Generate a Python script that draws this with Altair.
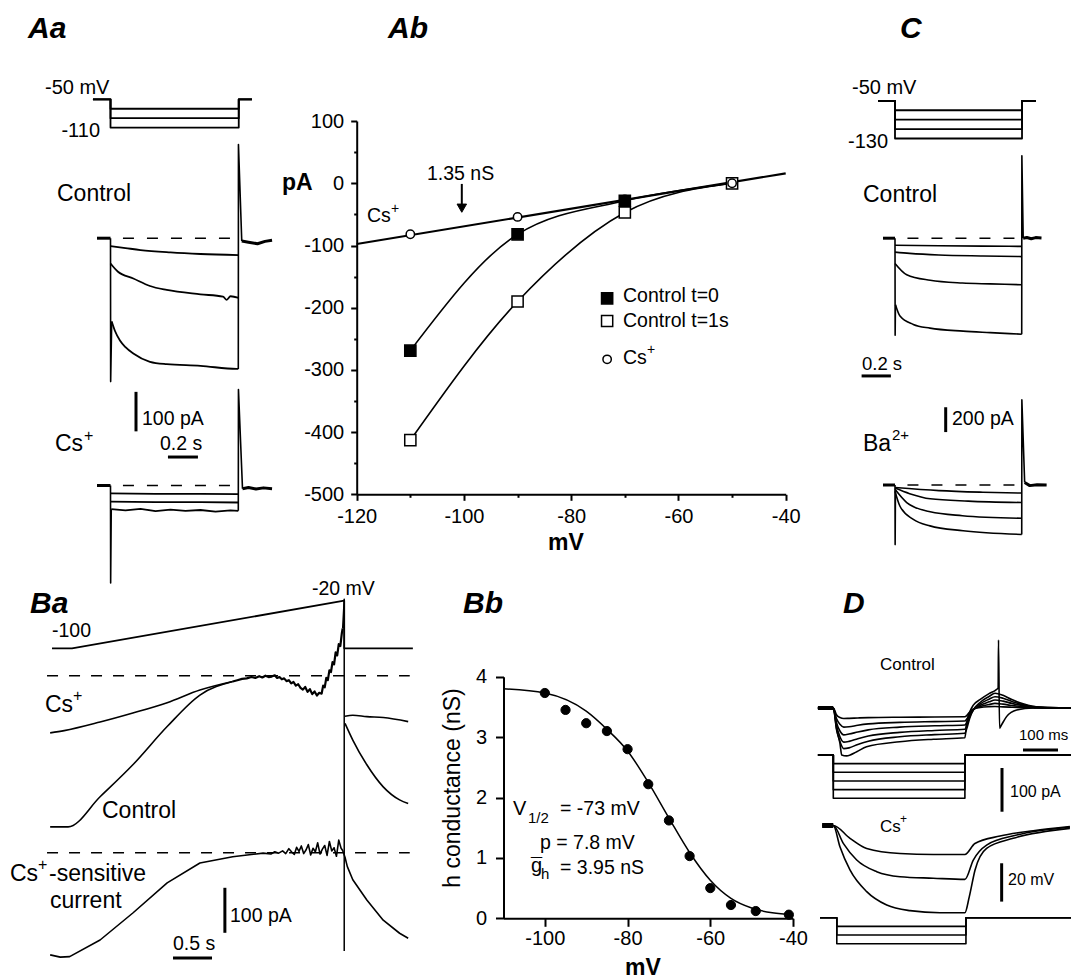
import altair as alt
import pandas as pd

FONT = "Liberation Sans"
W, H = 1071, 980

# ================= DATA =================
# ---- Aa : command (mV), currents (pA), time (s)
AA_HOLD_MV = -50
AA_STEP_MV = [-70, -90, -110]
AA_CMD_T = [-0.117, 0.0, 0.0, 0.855, 0.855, 0.943]

AA_CTRL_PRE = ([-0.09, 0.0], [0, 0])
AA_CTRL_1 = ([0.0, 0.1, 0.2, 0.4, 0.6, 0.855], [-20, -25, -30, -36, -40, -43])
AA_CTRL_2 = ([0.0, 0.05, 0.152, 0.263, 0.375, 0.6, 0.75, 0.775, 0.8, 0.855],
             [-64, -85, -102, -121, -131, -142, -148, -156, -147, -151])
AA_CTRL_3 = ([0.008, 0.03, 0.063, 0.1, 0.152, 0.263, 0.375, 0.6, 0.84, 0.852],
             [-211, -235, -259, -276, -292, -313, -319, -323, -331, -331])
AA_CTRL_ON = ([0.0, 0.001, 0.008], [0, -363, -211])
AA_CTRL_OFF = ([0.852, 0.853, 0.875], [-331, 237, -7])
AA_CTRL_POST = ([0.875, 0.92, 0.98, 1.03, 1.077], [-7, -10, -14, -8, -5])

AA_CS_PRE = ([-0.09, 0.0], [0, 0])
AA_CS_1 = ([0.0, 0.3, 0.6, 0.852], [-20, -21, -21, -22])
AA_CS_2 = ([0.0, 0.3, 0.6, 0.852], [-41, -42, -42, -43])
AA_CS_3 = ([0.005, 0.1, 0.2, 0.3, 0.4, 0.5, 0.6, 0.7, 0.8, 0.852],
           [-60, -63, -59, -65, -61, -64, -62, -66, -63, -64])
AA_CS_ON = ([0.0, 0.001, 0.005], [0, -247, -60])
AA_CS_OFF = ([0.852, 0.853, 0.88], [-64, 243, -8])
AA_CS_POST = ([0.88, 0.92, 0.97, 1.02, 1.077], [-8, -5, -9, -6, -8])

# ---- Ab : I-V relation
AB_MV = [-110, -90, -70, -50]
AB_CTRL_T0 = [-269, -82, -28, 0]
AB_CTRL_T1 = [-413, -190, -47, 0]
AB_CS = [-82, -54, -26, 0]
AB_CS_FIT_MV = [-120, -40]
AB_CS_FIT_PA = [-97.6, 16]

# ---- C
C_HOLD_MV = -50
C_STEP_MV = [-70, -90, -110, -130]
C_CMD_T = [-0.116, 0.0, 0.0, 0.867, 0.867, 0.962]
C_CTRL_PRE = ([-0.082, 0.0], [0, 0])
C_CTRL_1 = ([0.0, 0.3, 0.6, 0.865], [-57, -61, -64, -66])
C_CTRL_2 = ([0.0, 0.1, 0.3, 0.6, 0.865], [-112, -122, -135, -143, -148])
C_CTRL_3 = ([0.0, 0.08, 0.24, 0.46, 0.65, 0.865], [-203, -294, -339, -361, -368, -375])
C_CTRL_4 = ([0.003, 0.034, 0.125, 0.239, 0.465, 0.65, 0.865],
            [-536, -627, -694, -724, -748, -760, -773])
C_CTRL_ON = ([0.0, 0.001, 0.003], [0, -782, -536])
C_CTRL_OFF = ([0.865, 0.866, 0.875], [-773, 664, 0])
C_CTRL_POST = ([0.875, 0.9, 0.93, 0.96, 1.0], [0, 6, -4, 5, 2])

C_BA_PRE = ([-0.082, 0.0], [0, 0])
C_BA_1 = ([0.0, 0.3, 0.6, 0.865], [-20, -45, -58, -65])
C_BA_2 = ([0.0, 0.1, 0.24, 0.5, 0.865], [-25, -70, -111, -130, -141])
C_BA_3 = ([0.0, 0.08, 0.24, 0.46, 0.865], [-35, -141, -216, -247, -268])
C_BA_4 = ([0.0, 0.034, 0.125, 0.239, 0.465, 0.865], [-50, -171, -277, -329, -368, -398])
C_BA_ON = ([0.0, 0.001, 0.003], [0, -480, -50])
C_BA_OFF = ([0.865, 0.866, 0.885], [-398, 685, 20])
C_BA_POST = ([0.885, 0.92, 0.97, 1.035], [20, -5, 2, 0])

# ---- Ba : ramp
BA_CMD = ([-0.256, 0.0, 3.49, 3.49, 4.37], [-100, -100, -20, -100, -100])
BA_CS_PRE = ([-0.28, -0.1, 0.36, 0.78, 1.22, 1.64, 2.06], [-127, -122, -103, -83, -60, -32, -13])
BA_CTRL_PRE = ([-0.28, -0.05, 0.36, 0.78, 1.22, 1.64, 2.06], [-336, -336, -269, -198, -113, -43, -13])
BA_SHARED = ([2.06, 2.12, 2.18, 2.24, 2.30, 2.35, 2.40, 2.44, 2.48, 2.52, 2.56, 2.60, 2.63, 2.66, 2.69,
              2.72, 2.75, 2.78, 2.81, 2.84, 2.87, 2.90, 2.93, 2.96, 2.99, 3.02, 3.05, 3.08, 3.11, 3.14,
              3.17, 3.20, 3.22, 3.24, 3.26, 3.28, 3.30, 3.32, 3.34, 3.36, 3.38, 3.40, 3.42, 3.44, 3.46, 3.47],
             [-13, -10, -7, -6, -3, -5, -1, -4, 0, -3, -2, 1, -5, -3, -8,
              -6, -12, -10, -17, -14, -22, -19, -27, -31, -25, -36, -30, -41, -35, -44,
              -38, -40, -22, -26, -5, -10, 12, 8, 30, 25, 52, 45, 70, 66, 95, 105])
BA_TRANSIENT = ([3.47, 3.49, 3.49], [105, 170, -612])
BA_CTRL_POST = ([3.5, 3.6, 3.78, 3.99, 4.2, 4.31], [-106, -143, -198, -247, -276, -284])
BA_CS_POST = ([3.5, 3.6, 3.78, 3.99, 4.31], [-90, -88, -91, -93, -102])
BA_SENS = ([-0.28, -0.15, -0.03, 0.36, 0.78, 1.22, 1.64, 2.06,
            2.3, 2.45, 2.55, 2.6, 2.65, 2.7, 2.74, 2.78, 2.82, 2.85, 2.88, 2.91, 2.94, 2.97, 3.0,
            3.03, 3.06, 3.09, 3.12, 3.15, 3.18, 3.21, 3.24, 3.27, 3.3, 3.33, 3.36, 3.39, 3.42, 3.45, 3.47,
            3.5, 3.53, 3.6, 3.78, 3.99, 4.2, 4.31],
           [-227, -232, -231, -194, -134, -67, -23, -9,
            -4, -1, -3, 2, -1, 4, -2, 9, 1, -4, 12, 3, 15, -2, 6,
            18, -5, 10, 2, 22, -3, 8, 16, -6, 25, 4, 11, -8, 28, 10, 5,
            -10, -31, -60, -105, -150, -179, -190])

# ---- Bb : h conductance
BB_MV = [-100, -95, -90, -85, -80, -75, -70, -65, -60, -55, -49, -41]
BB_NS = [3.73, 3.45, 3.23, 3.10, 2.80, 2.22, 1.62, 1.03, 0.50, 0.22, 0.12, 0.06]
BB_FIT_MV = [-110, -100, -90, -85, -80, -75, -70, -65, -60, -55, -50, -45, -40]
BB_FIT_NS = [3.80, 3.73, 3.43, 3.13, 2.77, 2.25, 1.66, 1.09, 0.63, 0.33, 0.17, 0.09, 0.06]

# ---- D : current clamp (time in ms, mV relative to rest, pA)
D_T = [-44, 0, 9, 19, 30, 45, 70, 100, 190, 290, 376, 381, 390, 400, 420, 445, 462, 485, 510, 540, 570, 620, 681]
D_CTRL_V = [
    [0, 0, -3.5, -5.0, -5.5, -5.4, -5.2, -5.0, -4.8, -4.7, -4.6, -4.0, -2.0, -0.5, 0.3, 0.7, 0.8, 0.6, 0.4, 0.2, 0.1, 0, 0],
    [0, 0, -5.5, -8.5, -10.0, -9.8, -9.0, -8.3, -7.5, -7.1, -6.8, -5.8, -3.0, -0.8, 0.8, 1.8, 2.4, 2.0, 1.3, 0.7, 0.3, 0.1, 0],
    [0, 0, -7.5, -12, -14, -13.6, -12.5, -11.4, -10.0, -9.3, -8.9, -7.5, -3.8, -1.0, 1.4, 3.2, 4.2, 3.6, 2.4, 1.3, 0.5, 0.1, 0],
    [0, 0, -9, -15, -17.8, -17.4, -16, -14.6, -12.7, -11.7, -11.1, -9.3, -4.5, -1.0, 2.2, 4.6, 5.9, 5.1, 3.4, 1.8, 0.7, 0.2, 0],
    [0, 0, -10.5, -17.5, -21.2, -20.8, -19.0, -17.3, -15.0, -13.9, -13.2, -11.0, -5.2, -1.0, 3.0, 6.0, 7.7, 6.6, 4.4, 2.3, 0.9, 0.2, 0],
]
D_SPIKE = ([-44, 0, 9.5, 19, 24, 38, 67, 95, 190, 286, 376, 381, 390, 400, 420, 445, 465, 471, 472, 475, 480, 495, 524, 571, 620, 681],
           [0, 0, -11.5, -18.4, -24.5, -25, -22.8, -20.2, -17.6, -16.3, -15.5, -8, -2, 1.5, 4.5, 7.5, 9.5, 10.5, 35.5, -10.5, -9, -4.5, -1, 0, 0, 0])
D_CTRL_STEP_PA = [-20, -40, -60, -80, -100]
D_CTRL_CMD_T = [-44, 0, 0, 376, 376, 681]
D_CS_1 = ([-32, 0, 47.7, 95.4, 190.6, 285.7, 376, 404.6, 476.3, 571.4, 676],
          [0, 0, -6.7, -12.0, -14.6, -15.1, -15.1, -9.4, -5.5, -2.7, -0.6])
D_CS_2 = ([-32, 0, 28.6, 66.9, 124, 190.6, 285.7, 376, 400, 438, 524, 676],
          [0, 0, -9.3, -18.0, -24.1, -26.7, -27.5, -28.1, -18.0, -10.2, -5.0, -0.9])
D_CS_3 = ([-32, 0, 19, 47.6, 95.4, 152.6, 219, 305, 376, 388.6, 405, 438, 514, 676],
          [0, 0, -11.1, -23.2, -34.5, -41.5, -44.4, -45.5, -45.5, -37.1, -23.2, -11.9, -6.7, -1.5])
D_CS_STEP_PA = [-20, -40, -60]
D_CS_CMD_T = [-38, 10, 10, 379, 379, 681]


# ================= HELPERS =================
def sc(d, r):
    return alt.Scale(domain=d, range=r, nice=False, zero=False)


def lines(traces, xs, ys, sw=1.6, dash=None, interp="linear", xaxis=None, yaxis=None):
    rows = []
    for k, (ts, vs) in enumerate(traces):
        for i, (t, v) in enumerate(zip(ts, vs)):
            rows.append({"k": k, "i": i, "t": t, "v": v})
    props = dict(color="black", strokeWidth=sw, strokeJoin="round", interpolate=interp)
    if dash is not None:
        props["strokeDash"] = dash
    return alt.Chart(pd.DataFrame(rows)).mark_line(**props).encode(
        x=alt.X("t:Q", scale=xs, axis=xaxis),
        y=alt.Y("v:Q", scale=ys, axis=yaxis),
        detail="k:N", order="i:Q")


def points(xv, yv, xs, ys, shape, fill, size, sw=1.5):
    df = pd.DataFrame({"t": xv, "v": yv})
    return alt.Chart(df).mark_point(shape=shape, filled=True, fill=fill, stroke="black",
                                    strokeWidth=sw, size=size, opacity=1).encode(
        x=alt.X("t:Q", scale=xs, axis=None), y=alt.Y("v:Q", scale=ys, axis=None))


ONE = pd.DataFrame({"o": [0]})


def txt(s, x, y, size=19, weight="normal", style="normal", align="left", angle=None, baseline="alphabetic"):
    kw = dict(text=s, font=FONT, fontSize=size, fontWeight=weight, fontStyle=style,
              align=align, baseline=baseline, color="black")
    if angle is not None:
        kw["angle"] = angle
    return alt.Chart(ONE).mark_text(**kw).encode(x=alt.value(x), y=alt.value(y))


def axis(orient, offset, values, size, labels=True, domain=True, pad=4, fs=20):
    return alt.Axis(orient=orient, offset=offset, values=values, tickSize=size, tickWidth=2,
                    tickColor="black", domain=domain, domainColor="black", domainWidth=2,
                    labels=labels, grid=False, title=None, labelFont=FONT, labelFontSize=fs,
                    labelColor="black", labelPadding=pad, labelFlush=False, labelOverlap=False,
                    labelExpr="'' + datum.value")


def cmd_traces(times, hold, levels):
    return [(times, [hold, hold, lv, lv, hold, hold]) for lv in levels]


L = []

# ================= Aa =================
AX = sc([0, 1], [110.5, 260.5])
AY_CMD = sc([-110, -50], [127.6, 99.3])
AY_CTRL = sc([-400, 0], [396.2, 238.2])
AY_CS = sc([-400, 0], [643.5, 485.5])

L.append(lines(cmd_traces(AA_CMD_T, AA_HOLD_MV, AA_STEP_MV), AX, AY_CMD, sw=1.8))
L.append(lines([AA_CTRL_1, AA_CTRL_2, AA_CTRL_3], AX, AY_CTRL, sw=1.8, interp="monotone"))
L.append(lines([AA_CTRL_ON, AA_CTRL_OFF], AX, AY_CTRL, sw=1.6))
L.append(lines([AA_CTRL_PRE, AA_CTRL_POST], AX, AY_CTRL, sw=3))
L.append(lines([([0.083, 0.863], [0, 0])], AX, AY_CTRL, sw=1.6, dash=[11, 13]))
L.append(lines([AA_CS_1, AA_CS_2, AA_CS_3], AX, AY_CS, sw=1.8))
L.append(lines([AA_CS_ON, AA_CS_OFF], AX, AY_CS, sw=1.6))
L.append(lines([AA_CS_PRE, AA_CS_POST], AX, AY_CS, sw=3))
L.append(lines([([0.083, 0.863], [0, 0])], AX, AY_CS, sw=1.6, dash=[11, 13]))
# scale bars 100 pA / 0.2 s
L.append(lines([([0.17, 0.17], [-389, -489]), ([0.383, 0.583], [-554, -554])], AX, AY_CTRL, sw=3))

L += [txt("Aa", 28, 38, 30, "bold", "italic"),
      txt("-50 mV", 45, 94, 20), txt("-110", 100, 137, 20, align="right"),
      txt("Control", 57, 201, 23), txt("100 pA", 142, 425, 19.5),
      txt("Cs", 55, 451, 23), txt("+", 84, 441, 16), txt("0.2 s", 160, 450, 19.5)]

# ================= Ab =================
ABX = sc([-120, -40], [356.7, 785.7])
ABY = sc([-500, 100], [494.3, 121.1])
L.append(lines([(AB_MV, AB_CTRL_T0), (AB_MV, AB_CTRL_T1)], ABX, ABY, sw=1.6, interp="monotone",
               xaxis=axis("bottom", 494.3 - H, list(range(-110, -40, 20)), 3, labels=False, domain=False),
               yaxis=axis("left", -356.7, list(range(-450, 100, 100)), 3, labels=False, domain=False)))
L.append(lines([(AB_CS_FIT_MV, AB_CS_FIT_PA)], ABX, ABY, sw=2.2,
               xaxis=axis("bottom", 494.3 - H, list(range(-120, -39, 20)), 6, pad=6),
               yaxis=axis("left", -356.7, list(range(-500, 101, 100)), 6, pad=7)))
# arrow for 1.35 nS
L.append(lines([([-100.4, -100.4], [-1, -36])], ABX, ABY, sw=2))
L.append(points([-100.4], [-40], ABX, ABY, "triangle-down", "black", 90, sw=1))
L.append(points(AB_MV, AB_CTRL_T1, ABX, ABY, "square", "white", 125))
L.append(points(AB_MV, AB_CS, ABX, ABY, "circle", "white", 70))
L.append(points(AB_MV[:3], AB_CTRL_T0[:3], ABX, ABY, "square", "black", 125))
# legend symbols
L.append(points([-73.3], [-185], ABX, ABY, "square", "black", 125))
L.append(points([-73.3], [-221.4], ABX, ABY, "square", "white", 125))
L.append(points([-73.3], [-283], ABX, ABY, "circle", "white", 70))

L += [txt("Ab", 388, 38, 30, "bold", "italic"),
      txt("pA", 282, 190, 23, "bold"), txt("mV", 566, 550, 23, "bold", align="center"),
      txt("1.35 nS", 427, 180, 19.5),
      txt("Cs", 367, 222, 19.5), txt("+", 391, 213, 14),
      txt("Control t=0", 623, 302, 19.5), txt("Control t=1s", 623, 327, 19.5),
      txt("Cs", 623, 364, 19.5), txt("+", 647, 354, 14)]

# ================= C =================
CX = sc([0, 1], [895, 1041.5])
CY_CMD = sc([-130, -50], [138.5, 100.8])
CY_CTRL = sc([-1000, 0], [362.4, 238.2])
CY_BA = sc([-1000, 0], [609.2, 485])

L.append(lines(cmd_traces(C_CMD_T, C_HOLD_MV, C_STEP_MV), CX, CY_CMD, sw=1.8))
L.append(lines([C_CTRL_1, C_CTRL_2, C_CTRL_3, C_CTRL_4], CX, CY_CTRL, sw=1.6, interp="monotone"))
L.append(lines([C_CTRL_ON, C_CTRL_OFF], CX, CY_CTRL, sw=1.6))
L.append(lines([C_CTRL_PRE, C_CTRL_POST], CX, CY_CTRL, sw=3))
L.append(lines([([0.085, 0.86], [0, 0])], CX, CY_CTRL, sw=1.6, dash=[11, 13]))
L.append(lines([C_BA_1, C_BA_2, C_BA_3, C_BA_4], CX, CY_BA, sw=1.6, interp="monotone"))
L.append(lines([C_BA_ON, C_BA_OFF], CX, CY_BA, sw=1.6))
L.append(lines([C_BA_PRE, C_BA_POST], CX, CY_BA, sw=3))
L.append(lines([([0.085, 0.86], [0, 0])], CX, CY_BA, sw=1.6, dash=[11, 13]))
# scale bars 0.2 s / 200 pA
L.append(lines([([-0.228, -0.028], [-1109, -1109]), ([0.346, 0.346], [-1361, -1561])], CX, CY_CTRL, sw=3))

L += [txt("C", 900, 38, 30, "bold", "italic"),
      txt("-50 mV", 852, 94, 20), txt("-130", 888, 148, 20, align="right"),
      txt("Control", 863, 202, 23), txt("0.2 s", 862, 370, 18.5),
      txt("200 pA", 952, 425, 19.5), txt("Ba", 863, 451, 23), txt("2+", 892, 440, 15)]

# ================= Ba =================
BAX = sc([0, 1], [72, 150])
BAY_CMD = sc([-100, -20], [648.3, 600.7])
BAY_TOP = sc([-400, 0], [855.7, 675.7])
BAY_BOT = sc([-400, 0], [1032.7, 852.7])

L.append(lines([BA_CMD], BAX, BAY_CMD, sw=1.8))
L.append(lines([BA_CS_PRE, BA_CTRL_PRE, BA_CTRL_POST, BA_CS_POST], BAX, BAY_TOP, sw=1.6, interp="monotone"))
L.append(lines([BA_SHARED], BAX, BAY_TOP, sw=2.2))
L.append(lines([BA_TRANSIENT], BAX, BAY_TOP, sw=1.5))
L.append(lines([([-0.32, 4.33], [0, 0])], BAX, BAY_TOP, sw=1.5, dash=[11, 11]))
L.append(lines([BA_SENS], BAX, BAY_BOT, sw=1.6))
L.append(lines([([-0.32, 4.33], [0, 0])], BAX, BAY_BOT, sw=1.5, dash=[11, 11]))
L.append(lines([([1.96, 1.96], [-78, -178]), ([1.295, 1.795], [-234, -234])], BAX, BAY_BOT, sw=3))

L += [txt("Ba", 30, 613, 30, "bold", "italic"),
      txt("-20 mV", 312, 595, 19.5), txt("-100", 52, 637, 19.5),
      txt("Cs", 45, 712, 23), txt("+", 73, 701, 16),
      txt("Control", 102, 818, 23),
      txt("Cs", 10, 881, 23), txt("+", 38, 870, 16), txt("-sensitive", 49, 881, 23),
      txt("current", 50, 908, 23),
      txt("100 pA", 230, 922, 19.5), txt("0.5 s", 173, 950, 19.5)]

# ================= Bb =================
BBX = sc([-110, -40], [503.5, 793])
BBY = sc([0, 4], [918.3, 676.7])
L.append(lines([(BB_FIT_MV, BB_FIT_NS)], BBX, BBY, sw=1.5, interp="monotone",
               xaxis=axis("bottom", 918.3 - H, [-100, -80, -60, -40], 8, pad=2, fs=20),
               yaxis=axis("left", -503.5, [0, 1, 2, 3, 4], 8, pad=9, fs=20)))
L.append(points(BB_MV, BB_NS, BBX, BBY, "circle", "black", 85, sw=1))

L += [txt("Bb", 463, 613, 30, "bold", "italic"),
      txt("h conductance  (nS)", 453, 788, 23, align="center", angle=270, baseline="middle"),
      txt("mV", 643, 975, 23, "bold", align="center"),
      txt("V", 513, 815, 20), txt("1/2", 528, 823, 15), txt("= -73 mV", 560, 815, 19.5),
      txt("p = 7.8 mV", 540, 849, 19.5),
      txt("g", 531, 872, 20), txt("\u00af", 531, 872, 20), txt("h", 541, 879, 15),
      txt("= 3.95 nS", 560, 874, 19.5)]

# ================= D =================
DX = sc([0, 100], [833.3, 868.3])
DY_V1 = sc([-30, 0], [765.5, 708])
DY_I1 = sc([-100, 0], [798.3, 755])
DY_V2 = sc([-50, 0], [921.35, 825.5])
DY_I2 = sc([-100, 0], [961, 917.7])

L.append(lines([(D_T, v) for v in D_CTRL_V] + [D_SPIKE], DX, DY_V1, sw=1.6, interp="monotone"))
L.append(lines([([-44, 0], [0, 0])], DX, DY_V1, sw=4))
L.append(lines(cmd_traces(D_CTRL_CMD_T, 0, D_CTRL_STEP_PA), DX, DY_I1, sw=1.6))
L.append(lines([D_CS_1, D_CS_2, D_CS_3], DX, DY_V2, sw=1.6, interp="monotone"))
L.append(lines([([-32, 0], [0, 0])], DX, DY_V2, sw=5))
L.append(lines(cmd_traces(D_CS_CMD_T, 0, D_CS_STEP_PA), DX, DY_I2, sw=1.6))
# scale bars: 100 ms, 100 pA, 20 mV
L.append(lines([([542, 642], [-21.9, -21.9])], DX, DY_V1, sw=3))
L.append(lines([([482, 482], [-30, -131])], DX, DY_I1, sw=3))
L.append(lines([([481, 481], [-19.7, -39.7])], DX, DY_V2, sw=3))

L += [txt("D", 843, 613, 30, "bold", "italic"),
      txt("Control", 880, 670, 17), txt("100 ms", 1019, 740, 15),
      txt("100 pA", 1010, 797, 16), txt("Cs", 880, 832, 17), txt("+", 900, 823, 12),
      txt("20 mV", 1008, 885, 16)]

chart = alt.layer(*L).resolve_scale(x="independent", y="independent").properties(
    width=W, height=H, padding=0, autosize=alt.AutoSizeParams(type="none"),
    background="white").configure_view(strokeWidth=0)

chart.save("out.html", embed_options={"renderer": "svg", "actions": False})
